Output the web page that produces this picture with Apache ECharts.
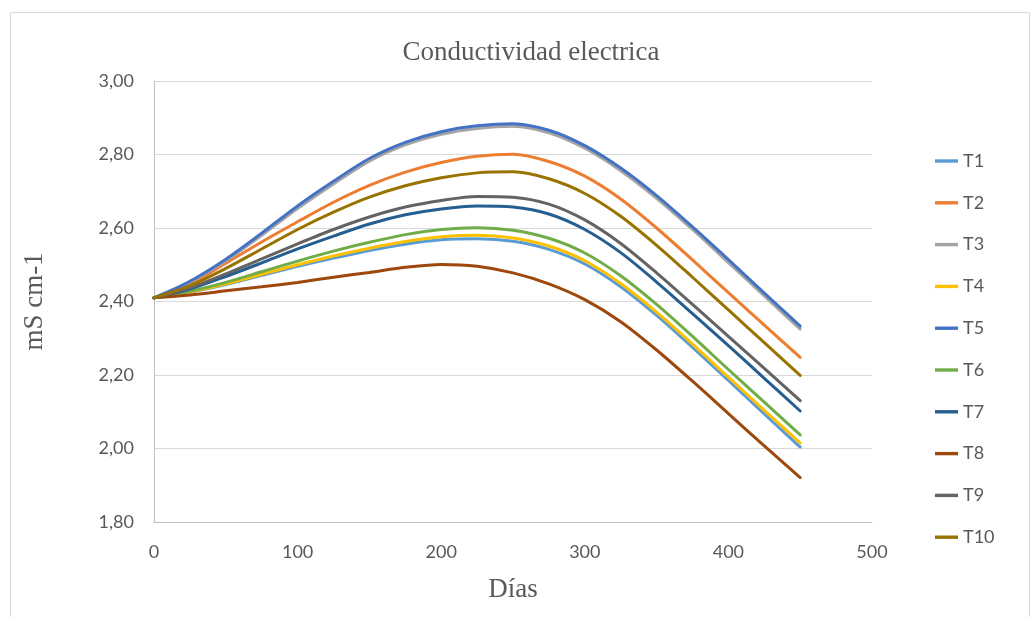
<!DOCTYPE html>
<html>
<head>
<meta charset="utf-8">
<script src="https://cdn.jsdelivr.net/npm/echarts@6/dist/echarts.min.js"></script>
<style>
  html, body { margin: 0; padding: 0; background: #ffffff; }
  #chart { width: 1035px; height: 617px; }
</style>
</head>
<body>
<div id="chart"></div>
<script>
// Sampling days
const days = [0, 25, 50, 75, 100, 125, 150, 175, 200, 225, 250, 275, 300, 325, 350, 375, 400, 425, 450];

// Electrical conductivity (mS cm-1) per treatment
const t1  = [2.41, 2.425, 2.446, 2.471, 2.496, 2.518, 2.539, 2.556, 2.568, 2.571, 2.564, 2.542, 2.502, 2.440, 2.362, 2.275, 2.185, 2.094, 2.004];
const t2  = [2.41, 2.447, 2.504, 2.562, 2.617, 2.670, 2.716, 2.752, 2.778, 2.795, 2.801, 2.781, 2.741, 2.679, 2.600, 2.513, 2.424, 2.336, 2.248];
const t3  = [2.41, 2.453, 2.511, 2.580, 2.653, 2.720, 2.782, 2.826, 2.855, 2.871, 2.877, 2.859, 2.817, 2.756, 2.681, 2.596, 2.506, 2.415, 2.325];
const t4  = [2.41, 2.426, 2.448, 2.474, 2.500, 2.524, 2.545, 2.563, 2.576, 2.580, 2.573, 2.551, 2.511, 2.449, 2.371, 2.284, 2.194, 2.104, 2.015];
const t5  = [2.41, 2.455, 2.515, 2.586, 2.660, 2.727, 2.789, 2.833, 2.862, 2.878, 2.884, 2.866, 2.824, 2.763, 2.688, 2.603, 2.514, 2.423, 2.333];
const t6  = [2.41, 2.428, 2.452, 2.481, 2.510, 2.537, 2.561, 2.582, 2.596, 2.601, 2.594, 2.572, 2.532, 2.470, 2.392, 2.305, 2.215, 2.126, 2.037];
const t7  = [2.41, 2.434, 2.468, 2.505, 2.543, 2.578, 2.611, 2.636, 2.652, 2.660, 2.657, 2.638, 2.596, 2.533, 2.453, 2.367, 2.280, 2.191, 2.102];
const t8  = [2.41, 2.418, 2.429, 2.440, 2.452, 2.466, 2.479, 2.493, 2.501, 2.496, 2.478, 2.448, 2.405, 2.345, 2.268, 2.183, 2.095, 2.007, 1.921];
const t9  = [2.41, 2.437, 2.475, 2.516, 2.557, 2.596, 2.630, 2.657, 2.675, 2.686, 2.684, 2.665, 2.622, 2.558, 2.478, 2.392, 2.305, 2.218, 2.130];
const t10 = [2.41, 2.443, 2.490, 2.543, 2.596, 2.643, 2.684, 2.715, 2.737, 2.750, 2.753, 2.734, 2.694, 2.632, 2.553, 2.466, 2.377, 2.288, 2.199];

const seriesNames = ['T1', 'T2', 'T3', 'T4', 'T5', 'T6', 'T7', 'T8', 'T9', 'T10'];
const seriesValues = [t1, t2, t3, t4, t5, t6, t7, t8, t9, t10];
const seriesColors = ['#5B9BD5', '#ED7D31', '#A5A5A5', '#FFC000', '#4472C4',
                      '#70AD47', '#255E91', '#9E480E', '#636363', '#997300'];

const labelFont = 'Lato, "Liberation Sans", sans-serif';
const serifFont = '"Liberation Serif", "DejaVu Serif", serif';
const textColor = '#595959';

const chart = echarts.init(document.getElementById('chart'), null, { renderer: 'canvas' });

chart.setOption({
  backgroundColor: '#ffffff',
  animation: false,
  graphic: [{
    type: 'rect',
    shape: { x: 10.5, y: 12.5, width: 1019, height: 620 },
    style: { fill: 'none', stroke: '#d9d9d9', lineWidth: 1 },
    silent: true
  }],
  title: {
    text: 'Conductividad electrica',
    left: 531,
    top: 39,
    padding: 0,
    textAlign: 'center',
    textStyle: { fontFamily: serifFont, fontSize: 27, fontWeight: 'normal', color: textColor }
  },
  legend: {
    orient: 'vertical',
    left: 935,
    top: 152,
    padding: 0,
    itemWidth: 23,
    itemHeight: 18,
    itemGap: 23.8,
    icon: 'path://M0,0 L23,0 L23,3.4 L0,3.4 Z',
    textStyle: { fontFamily: labelFont, fontSize: 18, color: textColor },
    data: seriesNames
  },
  grid: { left: 154, right: 163, top: 81, bottom: 95, containLabel: false },
  xAxis: {
    type: 'value',
    min: 0,
    max: 500,
    interval: 100,
    name: 'Días',
    nameLocation: 'middle',
    nameGap: 54,
    nameTextStyle: { fontFamily: serifFont, fontSize: 27, color: textColor },
    axisLine: { show: true, lineStyle: { color: '#bfbfbf', width: 1 } },
    axisTick: { show: false },
    splitLine: { show: false },
    axisLabel: { fontFamily: labelFont, fontSize: 18, color: textColor, margin: 21 }
  },
  yAxis: {
    type: 'value',
    min: 1.8,
    max: 3.0,
    interval: 0.2,
    name: 'mS cm-1',
    nameLocation: 'middle',
    nameGap: 106,
    nameRotate: 90,
    nameTextStyle: { fontFamily: serifFont, fontSize: 27, color: textColor },
    axisLine: { show: true, lineStyle: { color: '#bfbfbf', width: 1 } },
    axisTick: { show: false },
    splitLine: { show: true, lineStyle: { color: '#d9d9d9', width: 1 } },
    axisLabel: {
      fontFamily: labelFont, fontSize: 18, color: textColor, margin: 20,
      formatter: v => v.toFixed(2).replace('.', ',')
    }
  },
  series: seriesNames.map((name, i) => ({
    name: name,
    type: 'line',
    smooth: 0.3,
    showSymbol: false,
    symbol: 'none',
    color: seriesColors[i],
    lineStyle: { width: 3, color: seriesColors[i], cap: 'round' },
    data: days.map((d, j) => [d, seriesValues[i][j]])
  }))
});
</script>
</body>
</html>
